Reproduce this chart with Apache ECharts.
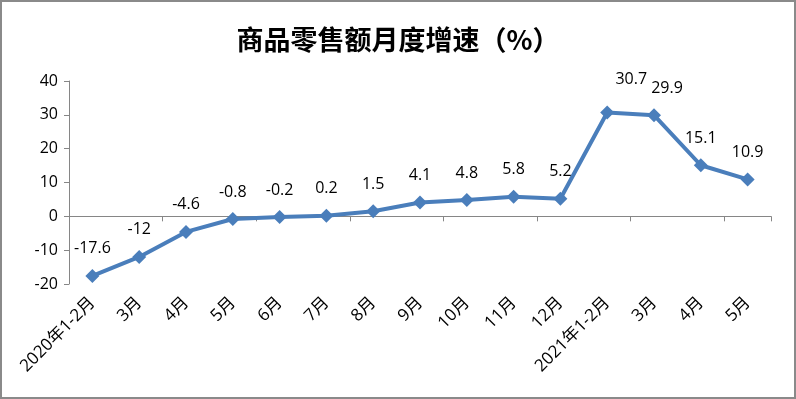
<!DOCTYPE html>
<html>
<head>
<meta charset="utf-8">
<script src="https://cdn.jsdelivr.net/npm/echarts@6/dist/echarts.min.js"></script>
<style>
  html, body { margin: 0; padding: 0; background: #fff; }
  #chart { width: 796px; height: 399px; box-sizing: border-box; border: 2px solid #8a8a8a; }
</style>
</head>
<body>
<div id="chart"></div>
<script>
  // 月份
  var categories = ['2020年1-2月', '3月', '4月', '5月', '6月', '7月', '8月', '9月', '10月', '11月', '12月', '2021年1-2月', '3月', '4月', '5月'];
  // 商品零售额月度增速
  var growth = [-17.6, -12, -4.6, -0.8, -0.2, 0.2, 1.5, 4.1, 4.8, 5.8, 5.2, 30.7, 29.9, 15.1, 10.9];
  var yTicks = [-20, -10, 0, 10, 20, 30, 40];

  var fontFam = '"Open Sans", "Noto Sans CJK SC", sans-serif';
  // a couple of labels sit a bit off the point
  var labelShift = { 11: [24, -6], 12: [13, 0] };

  var seriesData = growth.map(function (v, i) {
    var item = { value: v };
    if (labelShift[i]) item.label = { offset: labelShift[i] };
    return item;
  });

  var myChart = echarts.init(document.getElementById('chart'));
  var option = {
    animation: false,
    title: {
      text: '商品零售额月度增速（%）',
      left: 'center',
      top: 19,
      textStyle: {
        fontFamily: '"Noto Sans CJK SC", sans-serif',
        fontSize: 27,
        fontWeight: 'bold',
        color: '#000'
      }
    },
    grid: { left: 67, right: 23, top: 79, bottom: 113 },
    xAxis: [
      {
        type: 'category',
        data: categories,
        boundaryGap: true,
        axisLine: { onZero: true, lineStyle: { color: '#868686', width: 1 } },
        axisTick: { show: true, length: 5, inside: false, lineStyle: { color: '#868686' } },
        axisLabel: { show: false }
      },
      {
        type: 'category',
        data: categories,
        position: 'bottom',
        axisLine: { show: false, onZero: false },
        axisTick: { show: false },
        axisLabel: {
          interval: 0,
          rotate: 45,
          margin: 16,
          fontSize: 17,
          color: '#000',
          fontFamily: fontFam
        }
      }
    ],
    yAxis: {
      type: 'value',
      min: -20,
      max: 40,
      interval: 10,
      axisLine: { show: true, lineStyle: { color: '#868686' } },
      axisTick: { show: true, length: 5, lineStyle: { color: '#868686' } },
      splitLine: { show: false },
      axisLabel: {
        margin: 11,
        fontSize: 16,
        color: '#000',
        fontFamily: fontFam,
        formatter: function (v) { return yTicks.indexOf(v) >= 0 ? String(v) : ''; }
      }
    },
    series: [
      {
        type: 'line',
        xAxisIndex: 0,
        data: seriesData,
        symbol: 'diamond',
        symbolSize: 14,
        lineStyle: { color: '#4a7ebb', width: 4 },
        itemStyle: { color: '#4a7ebb' },
        label: {
          show: true,
          position: 'top',
          distance: 12,
          fontSize: 16,
          color: '#000',
          fontFamily: fontFam
        }
      }
    ]
  };
  myChart.setOption(option);
</script>
</body>
</html>
